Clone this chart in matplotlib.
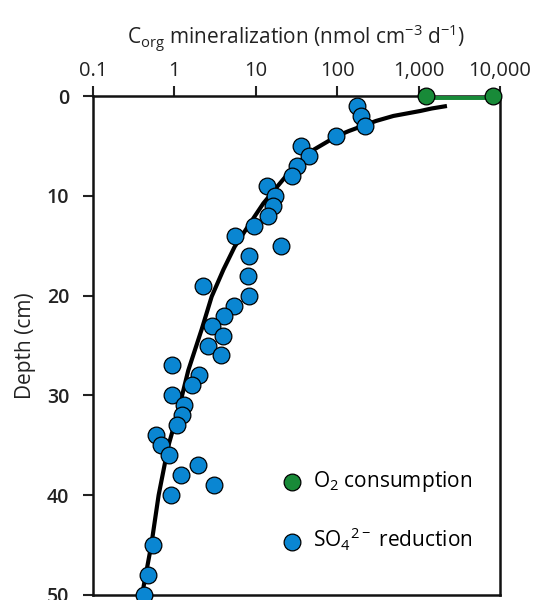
import matplotlib
matplotlib.use("Agg")
import matplotlib.pyplot as plt

plt.rcParams["font.family"] = ["Open Sans", "DejaVu Sans"]
plt.rcParams["mathtext.default"] = "regular"

# ================================
# Data
# ================================
# SO4 2- reduction rates (nmol cm-3 d-1) vs depth (cm)
so4_depth = [1, 2, 3, 4, 5, 6, 7, 8, 9, 10, 11, 12, 13, 14, 15, 16, 18, 19, 20,
             21, 22, 23, 24, 25, 26, 27, 28, 29, 30, 31, 32, 33, 34, 35, 36,
             37, 38, 39, 40, 45, 48, 50]
so4_rate = [177, 195, 221, 98, 36, 44.6, 32.3, 27.9, 13.8, 17.2, 16.4, 14.3, 9.5,
            5.5, 20.4, 8.2, 8.1, 2.26, 8.3, 5.4, 4.06, 2.87, 3.92, 2.61, 3.7,
            0.94, 1.99, 1.63, 0.925, 1.32, 1.25, 1.08, 0.59, 0.68, 0.86,
            1.93, 1.19, 3.06, 0.91, 0.54, 0.48, 0.42]

# O2 consumption at the sediment surface
o2_depth = [0, 0]
o2_rate = [1230, 8100]

# fitted profile (black line)
fit_depth = [1, 1.25, 1.5, 2, 2.5, 3, 3.5, 4, 5.4, 7, 8.75, 10.75, 12.75, 15.1,
             17.4, 20.1, 23.4, 27.5, 31.5, 35.1, 40, 45, 50]
fit_rate = [2230, 1450, 1050, 490, 300, 205, 140, 100, 51, 30, 19.8, 12.4, 8.5,
            5.5, 4.0, 2.87, 2.16, 1.48, 1.12, 0.84, 0.64, 0.52, 0.4]

blue = "#0A86D2"
green = "#188A38"

# ================================
# Plot
# ================================
fig = plt.figure(figsize=(5.48, 6.0), dpi=100)
ax = fig.add_axes([93 / 548, 5 / 600, 407 / 548, 499 / 600])

ax.plot(fit_rate, fit_depth, color="black", lw=3, zorder=2,
        solid_capstyle="butt", solid_joinstyle="round")
ax.plot(o2_rate, o2_depth, color=green, lw=5, zorder=3)
ax.scatter(o2_rate, o2_depth, s=145, color=green, edgecolor="black", lw=0.9,
           zorder=4, clip_on=False, label="O$_2$ consumption")
ax.scatter(so4_rate, so4_depth, s=145, color=blue, edgecolor="black", lw=0.9,
           zorder=4, clip_on=False, label="SO$_4$$^{2-}$ reduction")

ax.set_xscale("log")
ax.set_xlim(0.1, 10000)
ax.set_ylim(50, 0)
ax.set_xticks([0.1, 1, 10, 100, 1000, 10000])
ax.set_xticklabels(["0.1", "1", "10", "100", "1,000", "10,000"])
ax.minorticks_off()
ax.set_yticks([0, 10, 20, 30, 40, 50])

ax.xaxis.tick_top()
ax.xaxis.set_label_position("top")
ax.tick_params(axis="x", direction="out", length=7, width=1.5, pad=4,
               labelsize=14.5, colors="#222222")
ax.tick_params(axis="y", direction="out", length=7, width=1.5, pad=10,
               labelsize=14, colors="#222222")
for lab in ax.get_yticklabels():
    lab.set_fontweight("semibold")

for sp in ax.spines.values():
    sp.set_linewidth(1.8)
    sp.set_color("#111111")

ax.set_xlabel("C$_{org}$ mineralization (nmol cm$^{-3}$ d$^{-1}$)", fontsize=15,
              labelpad=12, color="#222222")
ax.set_ylabel("Depth (cm)", fontsize=15, labelpad=8, color="#222222")

ax.legend(loc="center left", bbox_to_anchor=(284 / 548, 1 - 511 / 600),
          bbox_transform=fig.transFigure, frameon=False, fontsize=15,
          handlelength=0.8, handletextpad=0.6, labelspacing=1.5,
          borderpad=0, borderaxespad=0, scatterpoints=1)

fig.savefig("out.png", dpi=100)
